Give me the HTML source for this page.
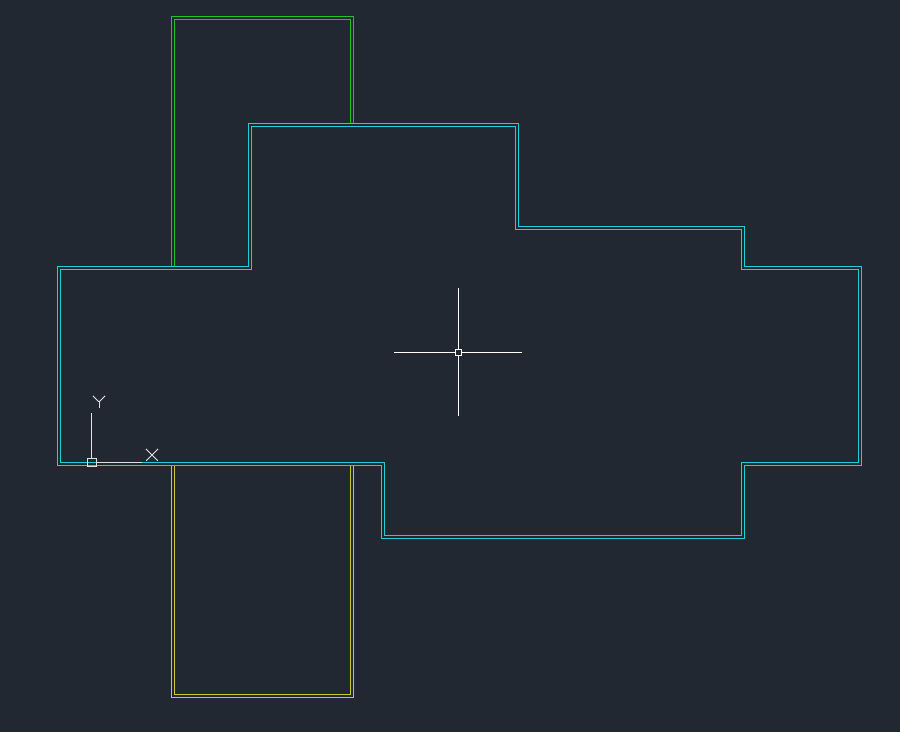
<!DOCTYPE html>
<html><head><style>
html,body{margin:0;padding:0;background:#222831;}
svg{display:block}
</style></head><body>
<svg width="900" height="732" viewBox="0 0 900 732" xmlns="http://www.w3.org/2000/svg" shape-rendering="crispEdges">
<rect width="900" height="732" fill="#222831"/>
<g fill="none" stroke-width="1.3">
<!-- green -->
<polyline stroke="#1fc41f" points="171.5,266 171.5,16.5 353.5,16.5 353.5,123"/>
<polyline stroke="#1fc41f" points="174.5,266 174.5,19.5 350.5,19.5 350.5,123"/>
<!-- yellow -->
<polyline stroke="#c9c936" points="171.5,465 171.5,697.5 353.5,697.5 353.5,465"/>
<polyline stroke="#c9c936" points="174.5,465 174.5,694.5 350.5,694.5 350.5,465"/>
<!-- cyan -->
<polygon stroke="#1fcfd4" points="57.5,266.5 248.5,266.5 248.5,123.5 518.5,123.5 518.5,226.5 744.5,226.5 744.5,266.5 861.5,266.5 861.5,465.5 744.5,465.5 744.5,538.5 381.5,538.5 381.5,465.5 57.5,465.5"/>
<polygon stroke="#1fcfd4" points="60.5,269.5 251.5,269.5 251.5,126.5 515.5,126.5 515.5,229.5 741.5,229.5 741.5,269.5 858.5,269.5 858.5,462.5 741.5,462.5 741.5,535.5 384.5,535.5 384.5,462.5 60.5,462.5"/>
</g>
<!-- crosshair -->
<g stroke="#ffffff" stroke-width="1" fill="none">
<line x1="394" y1="352.5" x2="455" y2="352.5"/>
<line x1="462" y1="352.5" x2="522" y2="352.5"/>
<line x1="458.5" y1="288" x2="458.5" y2="349"/>
<line x1="458.5" y1="356" x2="458.5" y2="416"/>
<rect x="455.5" y="349.5" width="6" height="6"/>
</g>
<!-- UCS icon -->
<g stroke="#e0e0e0" stroke-width="1" fill="none">
<line x1="91.5" y1="413" x2="91.5" y2="458"/>
<line x1="96" y1="462.5" x2="142" y2="462.5"/>
<rect x="87.5" y="458.5" width="9" height="8"/>
<line x1="146" y1="449" x2="158" y2="461"/>
<line x1="158" y1="449" x2="146" y2="461"/>
<line x1="93" y1="396" x2="99" y2="402"/>
<line x1="105" y1="396" x2="99" y2="402"/>
<line x1="99.5" y1="402" x2="99.5" y2="408"/>
</g>
</svg>
</body></html>
